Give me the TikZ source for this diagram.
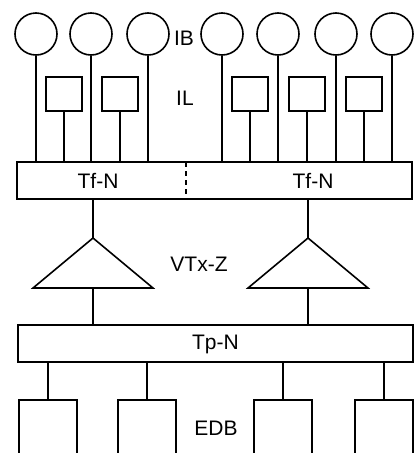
\documentclass[tikz,border=0pt]{standalone}
\usepackage{fontspec}
\setmainfont{Liberation Sans}
\begin{document}
\begin{tikzpicture}[x=1pt,y=-1pt, line width=1.6pt,
  ibnode/.style={draw, circle, minimum size=42pt, inner sep=0pt},
  ilnode/.style={draw, rectangle, minimum width=36pt, minimum height=34pt, inner sep=0pt},
  edbnode/.style={draw, rectangle, minimum width=58pt, minimum height=60pt, inner sep=0pt},
  busnode/.style={draw, rectangle, minimum height=37pt, inner sep=0pt},
  lbl/.style={font=\fontsize{21}{21}\selectfont, inner sep=0pt}]
\clip (0,0) rectangle (417,453);
% IB circles
\foreach \n/\x in {1/36,2/91,3/148,4/222,5/278,6/336,7/392}
  \node[ibnode] (ib\n) at (\x,34) {};
% IL boxes
\foreach \n/\x in {1/64,2/120,3/250,4/307,5/364}
  \node[ilnode] (il\n) at (\x,94) {};
% Tf-N bus
\node[busnode, minimum width=395pt] (tfn) at (214.5,180.5) {};
\coordinate (dtop) at (186,162);
\coordinate (dbot) at (186,199);
\draw[dash pattern=on 5pt off 4pt] (dtop) -- (dbot);
\node[lbl] (tfnl) at (98,181) {Tf-N};
\node[lbl] (tfnr) at (313,181) {Tf-N};
% connectors into Tf-N
\foreach \n in {1,...,7}
  \draw (ib\n.south) -- (ib\n.south |- tfn.north);
\foreach \n in {1,...,5}
  \draw (il\n.south) -- (il\n.south |- tfn.north);
% labels
\node[lbl] (ib) at (184,38) {IB};
\node[lbl] (il) at (185,98) {IL};
% triangles
\coordinate (ta1) at (93,238);
\coordinate (tl1) at (33,288);
\coordinate (tr1) at (153,288);
\coordinate (tb1) at (93,288);
\coordinate (ta2) at (308,238);
\coordinate (tl2) at (248,288);
\coordinate (tr2) at (368,288);
\coordinate (tb2) at (308,288);
\draw[line join=miter] (ta1) -- (tr1) -- (tl1) -- cycle;
\draw[line join=miter] (ta2) -- (tr2) -- (tl2) -- cycle;
\draw (tfn.south -| ta1) -- (ta1);
\draw (tfn.south -| ta2) -- (ta2);
\node[lbl] (vtx) at (199,264) {VTx-Z};
% Tp-N bus
\node[busnode, minimum width=395pt] (tpn) at (215.5,343.5) {};
\node[lbl] (tpnl) at (215.5,344) {Tp-N};
\draw (tb1) -- (tb1 |- tpn.north);
\draw (tb2) -- (tb2 |- tpn.north);
% EDB boxes
\foreach \n/\x in {1/48,2/147,3/283,4/384}
  \node[edbnode] (edb\n) at (\x,430) {};
\foreach \n in {1,...,4}
  \draw (tpn.south -| edb\n.north) -- (edb\n.north);
\node[lbl] (edb) at (216,428) {EDB};
\end{tikzpicture}
\end{document}
